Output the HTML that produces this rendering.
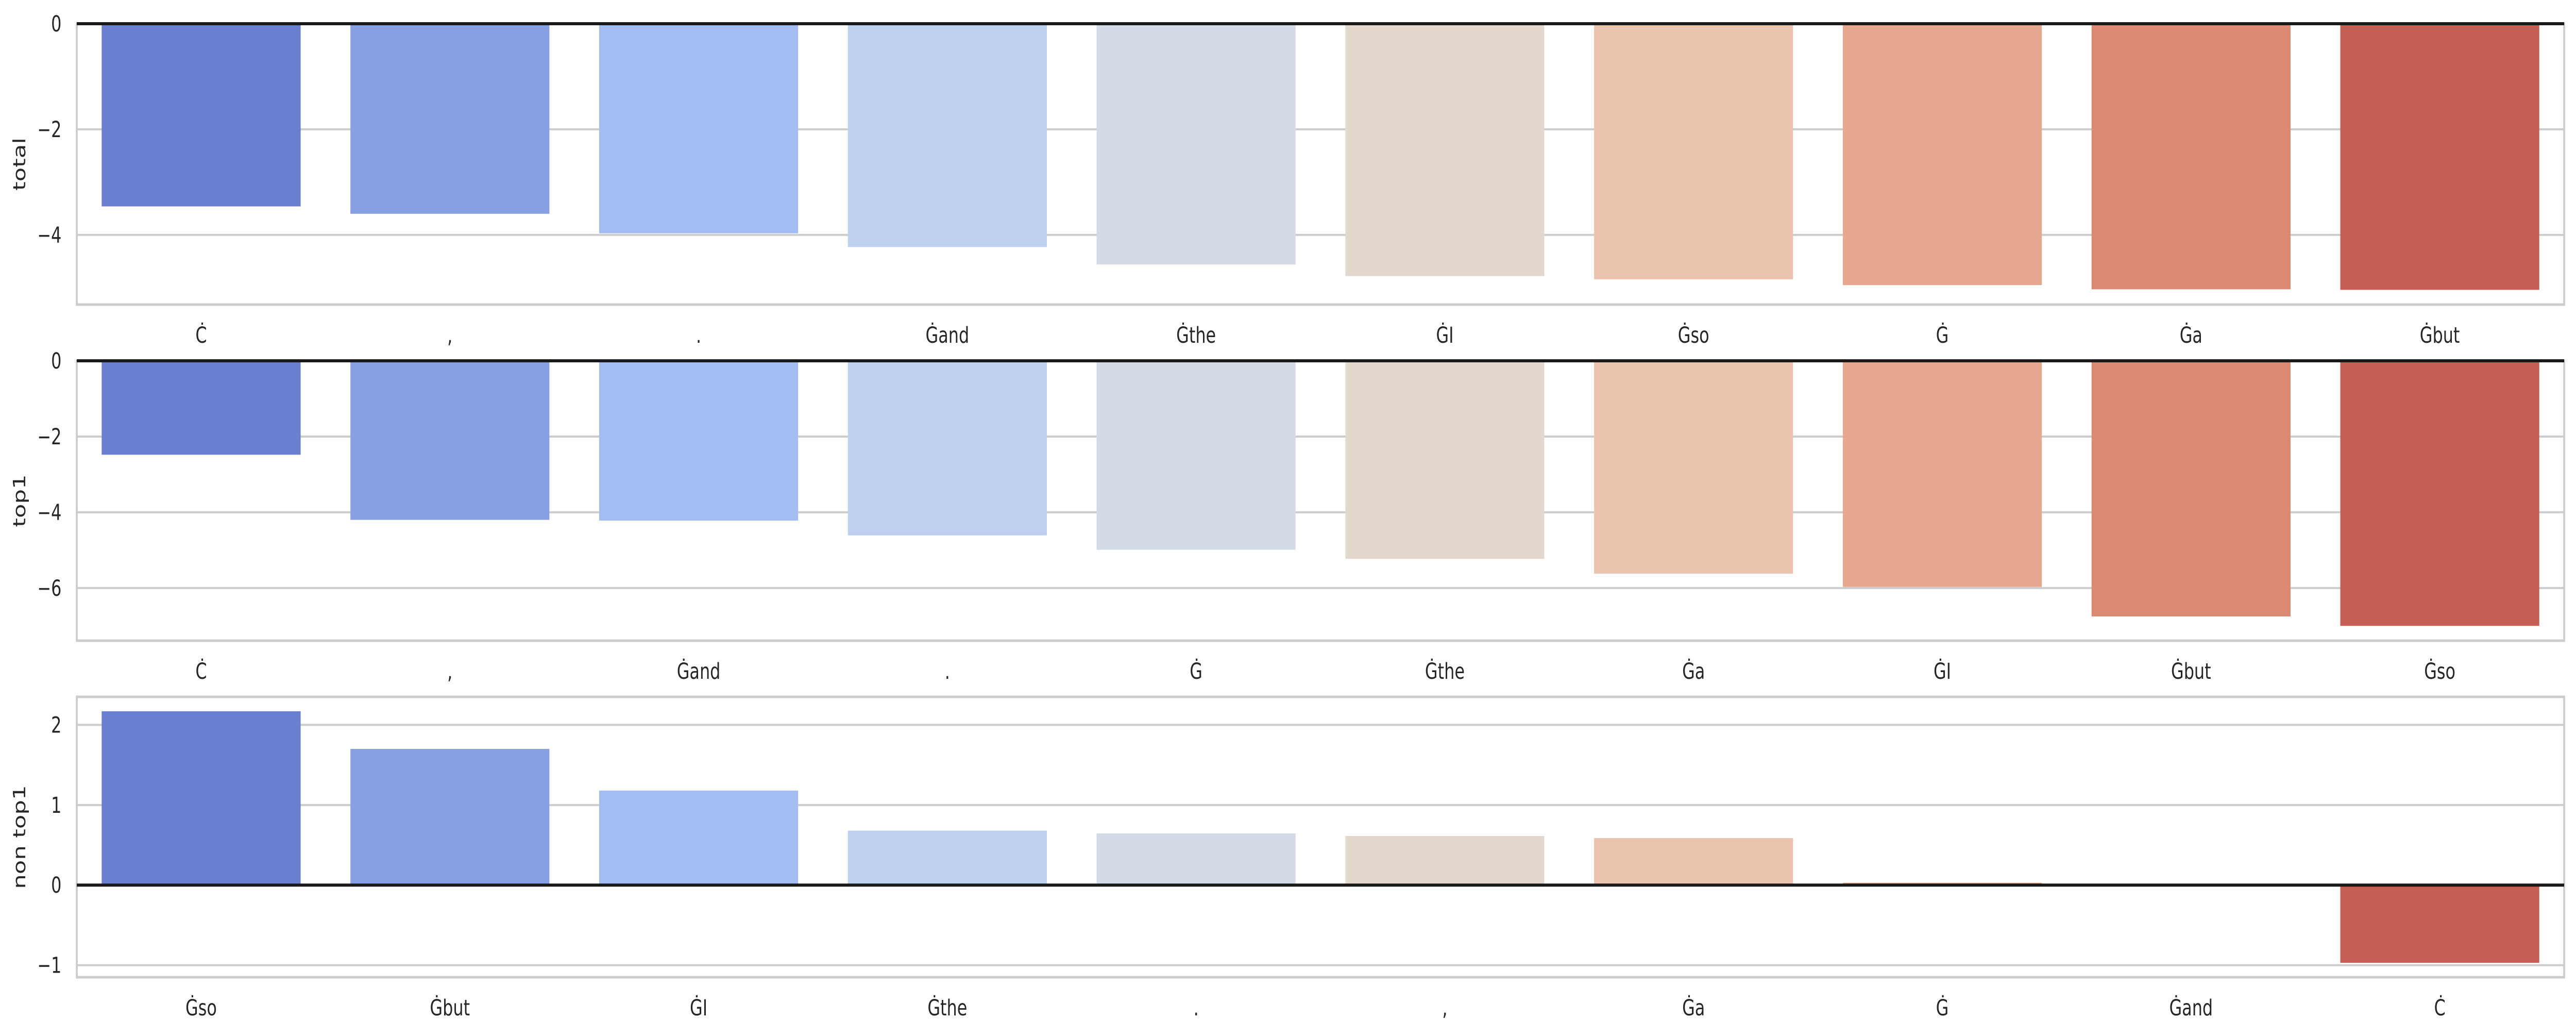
<!DOCTYPE html>
<html><head><meta charset="utf-8">
<style>
html,body{margin:0;padding:0;background:#fff;width:100vw;height:100vh;overflow:hidden}
svg{display:block;width:100vw;height:100vh}
text{font-family:"DejaVu Sans","Liberation Sans",sans-serif;fill:#262626}
</style></head><body>
<svg id="chart" viewBox="0 0 6742 2010" preserveAspectRatio="none" xmlns="http://www.w3.org/2000/svg"></svg>
<script>
const palette = ["#6a7fcf","#87a0e3","#a3bcf2","#bed0f0","#d5dbe6","#e3d7ce","#ebc4b0","#e6a88f","#db8972","#c45f55"];
const totalCategories = ["Ċ", ",", ".", "Ġand", "Ġthe", "ĠI", "Ġso", "Ġ", "Ġa", "Ġbut"];
const totalValues = [-3.46, -3.60, -3.97, -4.23, -4.56, -4.78, -4.84, -4.95, -5.03, -5.04];
const top1Categories = ["Ċ", ",", "Ġand", ".", "Ġ", "Ġthe", "Ġa", "ĠI", "Ġbut", "Ġso"];
const top1Values = [-2.48, -4.20, -4.22, -4.61, -4.99, -5.23, -5.62, -5.97, -6.75, -7.00];
const nonTop1Categories = ["Ġso", "Ġbut", "ĠI", "Ġthe", ".", ",", "Ġa", "Ġ", "Ġand", "Ċ"];
const nonTop1Values = [2.17, 1.70, 1.18, 0.68, 0.645, 0.613, 0.587, 0.03, 0.003, -0.97];
const totalTicks = [0, -2, -4];
const top1Ticks = [0, -2, -4, -6];
const nonTop1Ticks = [2, 1, 0, -1];

const NS = "http://www.w3.org/2000/svg";
const svg = document.getElementById("chart");
const L = 201, R = 6711;
function mk(tag, attrs, parent) {
  const e = document.createElementNS(NS, tag);
  for (const k in attrs) e.setAttribute(k, attrs[k]);
  (parent || svg).appendChild(e);
  return e;
}
function panel(name, label, cats, vals, ticks, top, bottom, ymax, ymin) {
  const g = mk("g", {});
  
  
  const y = v => top + (ymax - v) / (ymax - ymin) * (bottom - top);
  const step = (R - L) / cats.length;
  const xc = i => L + (i + 0.5) * step;
  ticks.forEach(t => {
    const gl = mk("line", {x1: L, x2: R, y1: y(t), y2: y(t), stroke: "#cccccc", "stroke-width": 4}, g);
    
    
    const tl = mk("text", {x: 161, y: y(t) + 15, "font-size": 43, "text-anchor": "end"}, g);
    tl.textContent = String(t).replace("-", "\u2212");
    
    
  });
  vals.forEach((v, i) => {
    const y0 = y(0), y1 = y(v);
    const b = mk("rect", {x: xc(i) - 0.4 * step, y: Math.min(y0, y1), width: 0.8 * step, height: Math.max(Math.abs(y1 - y0), 0.5), fill: palette[i]}, g);
    
    
    const tl = mk("text", {x: xc(i), y: bottom + 74, "font-size": 43, "text-anchor": "middle"}, g);
    tl.textContent = cats[i];
    
    
  });
  const fr = mk("rect", {x: L, y: top, width: R - L, height: bottom - top, fill: "none", stroke: "#cccccc", "stroke-width": 5}, g);
  
  
  const zl = mk("line", {x1: L, x2: R, y1: y(0), y2: y(0), stroke: "#1a1a1a", "stroke-width": 6}, g);
  
  
  const cy = (top + bottom) / 2;
  const yl = mk("text", {x: 0, y: 0, "font-size": 45, "text-anchor": "middle", transform: "translate(66," + cy + ") rotate(-90)"}, g);
  yl.textContent = label;
  
  
}
panel("total", "total", totalCategories, totalValues, totalTicks, 46, 591, 0, -5.32);
panel("top1", "top1", top1Categories, top1Values, top1Ticks, 700, 1243, 0, -7.39);
panel("non-top1", "non top1", nonTop1Categories, nonTop1Values, nonTop1Ticks, 1352, 1896, 2.35, -1.15);
</script>
</body></html>
